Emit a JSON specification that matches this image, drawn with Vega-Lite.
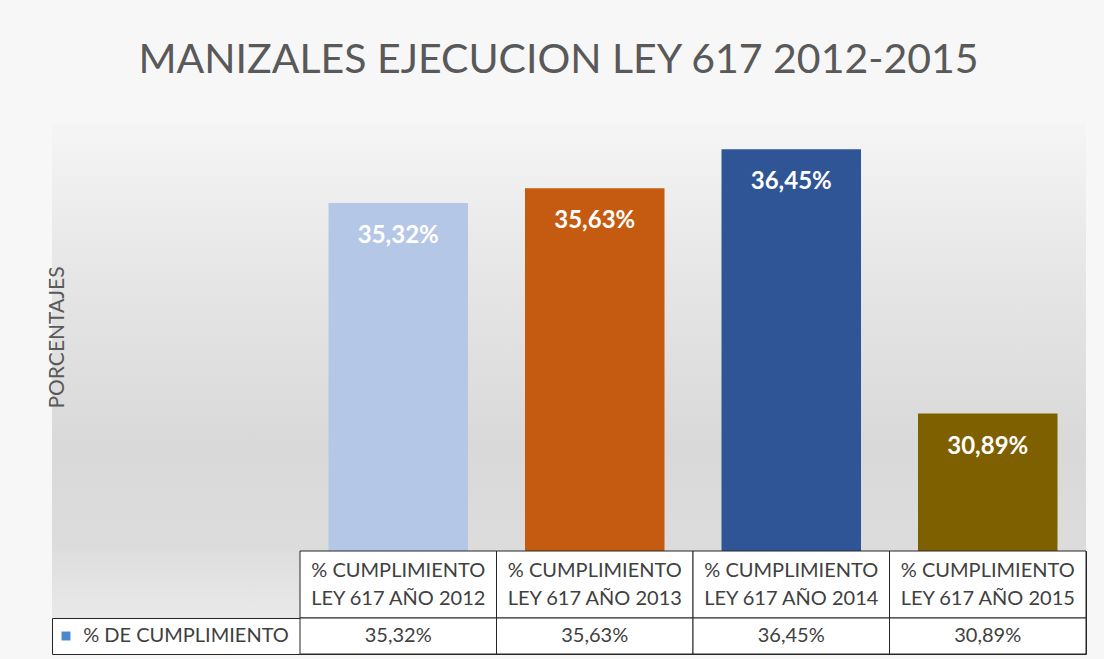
{
  "$schema": "https://vega.github.io/schema/vega-lite/v6.json",
  "background": "#f7f7f7",
  "padding": {"left": 46, "right": 18, "top": 40, "bottom": 6},
  "title": {
    "text": "MANIZALES EJECUCION LEY 617 2012-2015",
    "font": "Lato",
    "fontSize": 41,
    "fontWeight": "normal",
    "color": "#595959",
    "anchor": "middle",
    "dx": -8,
    "offset": 41
  },
  "datasets": {
    "ejecucion": [
      {"categoria": "% CUMPLIMIENTO\nLEY 617 AÑO 2012", "anio": "2012", "valor": 0.3532},
      {"categoria": "% CUMPLIMIENTO\nLEY 617 AÑO 2013", "anio": "2013", "valor": 0.3563},
      {"categoria": "% CUMPLIMIENTO\nLEY 617 AÑO 2014", "anio": "2014", "valor": 0.3645},
      {"categoria": "% CUMPLIMIENTO\nLEY 617 AÑO 2015", "anio": "2015", "valor": 0.3089}
    ],
    "serie": [{"serie": "% DE CUMPLIMIENTO"}],
    "vacio": [{"t": ""}]
  },
  "columns": 2,
  "spacing": 0,
  "bounds": "flush",
  "concat": [
    {
      "width": 248,
      "height": 428,
      "data": {"name": "vacio"},
      "mark": {"type": "text"},
      "encoding": {"text": {"field": "t"}},
      "view": {"stroke": null, "fill": {"gradient": "linear", "x1": 0, "y1": 0, "x2": 0, "y2": 1, "stops": [{"offset": 0, "color": "#f5f5f5"}, {"offset": 0.35, "color": "#e6e6e6"}, {"offset": 0.75, "color": "#d9d9d9"}, {"offset": 1, "color": "#dcdcdc"}]}}
    },
    {
      "width": 786,
      "height": 428,
      "data": {"name": "ejecucion"},
      "view": {"stroke": null, "fill": {"gradient": "linear", "x1": 0, "y1": 0, "x2": 0, "y2": 1, "stops": [{"offset": 0, "color": "#f5f5f5"}, {"offset": 0.35, "color": "#e6e6e6"}, {"offset": 0.75, "color": "#d9d9d9"}, {"offset": 1, "color": "#dcdcdc"}]}},
      "encoding": {
        "x": {"field": "categoria", "type": "nominal", "sort": null, "axis": null, "scale": {"paddingInner": 0.29, "paddingOuter": 0.145}},
        "y": {
          "field": "valor", "type": "quantitative",
          "scale": {"domain": [0.28, 0.37], "zero": false, "nice": false},
          "axis": {"labels": false, "ticks": false, "domain": false, "grid": false, "title": "PORCENTAJES", "titleFont": "Lato", "titleFontSize": 21, "titleFontWeight": "normal", "titleColor": "#595959", "titlePadding": 233}
        }
      },
      "layer": [
        {
          "mark": {"type": "bar", "clip": true},
          "encoding": {
            "color": {"field": "anio", "type": "nominal", "legend": null, "scale": {"domain": ["2012", "2013", "2014", "2015"], "range": ["#b4c7e7", "#c55a11", "#2f5597", "#7f6000"]}}
          }
        },
        {
          "mark": {"type": "text", "baseline": "top", "dy": 21, "color": "white", "fontSize": 24, "fontWeight": "bold", "font": "Lato"},
          "encoding": {"text": {"field": "valor", "type": "quantitative", "format": ".2%"}}
        }
      ]
    },
    {
      "width": 248,
      "height": 67,
      "data": {"name": "vacio"},
      "mark": {"type": "text"},
      "encoding": {"text": {"field": "t"}},
      "view": {"stroke": null, "fill": {"gradient": "linear", "x1": 0, "y1": 0, "x2": 0, "y2": 1, "stops": [{"offset": 0, "color": "#dedede"}, {"offset": 1, "color": "#e9e9e9"}]}}
    },
    {
      "width": 786,
      "height": 67,
      "data": {"name": "ejecucion"},
      "view": {"stroke": "#262626", "fill": "white"},
      "encoding": {
        "x": {"field": "categoria", "type": "nominal", "sort": null, "axis": null, "scale": {"paddingInner": 0, "paddingOuter": 0}}
      },
      "layer": [
        {"mark": {"type": "rect", "fill": "white", "stroke": "#262626", "strokeWidth": 1}},
        {
          "mark": {"type": "text", "lineBreak": "\n", "lineHeight": 28, "dy": -14, "fontSize": 20, "font": "Lato", "color": "#404040"},
          "encoding": {"text": {"field": "categoria", "type": "nominal"}}
        }
      ]
    },
    {
      "width": 248,
      "height": 36,
      "data": {"name": "serie"},
      "view": {"stroke": "#262626", "fill": "white"},
      "layer": [
        {
          "mark": {"type": "point", "shape": "square", "filled": true, "size": 80, "color": "#4a89d0", "opacity": 1},
          "encoding": {"xOffset": {"value": -110}}
        },
        {
          "mark": {"type": "text", "fontSize": 20, "font": "Lato", "color": "#404040", "dx": 10},
          "encoding": {"text": {"field": "serie", "type": "nominal"}}
        }
      ]
    },
    {
      "width": 786,
      "height": 36,
      "data": {"name": "ejecucion"},
      "view": {"stroke": "#262626", "fill": "white"},
      "encoding": {
        "x": {"field": "categoria", "type": "nominal", "sort": null, "axis": null, "scale": {"paddingInner": 0, "paddingOuter": 0}}
      },
      "layer": [
        {"mark": {"type": "rect", "fill": "white", "stroke": "#262626", "strokeWidth": 1}},
        {
          "mark": {"type": "text", "fontSize": 20, "font": "Lato", "color": "#404040"},
          "encoding": {"text": {"field": "valor", "type": "quantitative", "format": ".2%"}}
        }
      ]
    }
  ],
  "config": {
    "font": "Lato",
    "locale": {"number": {"decimal": ",", "thousands": ".", "grouping": [3], "currency": ["$", ""]}}
  }
}
